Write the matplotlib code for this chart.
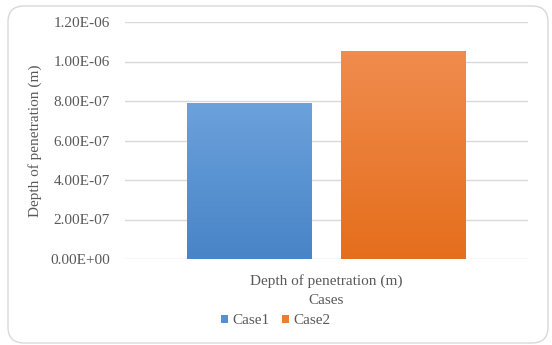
import matplotlib
matplotlib.use("Agg")
import matplotlib.pyplot as plt
import numpy as np
from matplotlib.patches import FancyBboxPatch
from matplotlib.transforms import IdentityTransform
from matplotlib.colors import LinearSegmentedColormap

category = ["Depth of penetration (m)"]
series = ["Case1", "Case2"]
values = [7.9e-07, 1.055e-06]
yticks = [0.0, 2e-07, 4e-07, 6e-07, 8e-07, 1e-06, 1.2e-06]
ytick_labels = ["0.00E+00", "2.00E-07", "4.00E-07", "6.00E-07", "8.00E-07", "1.00E-06", "1.20E-06"]

colors_top = ["#6ca2dc", "#f08c4e"]
colors_bot = ["#4884c7", "#e56e1c"]
solid = ["#5591d2", "#ed7d31"]

plt.rcParams["font.family"] = ["Liberation Serif", "DejaVu Serif"]
text_color = "#595959"
fs = 11

fig = plt.figure(figsize=(5.52, 3.45), dpi=100)
fig.patch.set_facecolor("white")

# rounded chart-area frame, in pixel units
frame = FancyBboxPatch((8, 2), 540, 337,
                       boxstyle="round,pad=0,rounding_size=16",
                       transform=IdentityTransform(), facecolor="none",
                       edgecolor="#d9d9d9", linewidth=1.0, zorder=-1)
fig.patches.append(frame)

ax = fig.add_axes([125 / 552, 1 - 259 / 345, 403 / 552, (259 - 22) / 345])
ax.set_facecolor("none")

for spine in ax.spines.values():
    spine.set_visible(False)

ax.set_yticks(yticks)
ax.set_yticklabels(ytick_labels, color=text_color, fontsize=fs)
ax.tick_params(axis="y", length=0, pad=11)
ax.yaxis.grid(True, color="#d9d9d9", linewidth=1.0)
ax.set_axisbelow(True)

ax.set_xticks([0])
ax.set_xticklabels(category, color=text_color, fontsize=fs)
ax.tick_params(axis="x", length=0, pad=11)
ax.set_xlabel("Cases", color=text_color, fontsize=fs, labelpad=4)
ax.set_ylabel("Depth of penetration (m)", color=text_color, fontsize=fs, labelpad=6)

width = 0.31
offsets = [-0.192, 0.192]
handles = []
for i, (name, v) in enumerate(zip(series, values)):
    x0 = offsets[i] - width / 2
    bar = ax.bar(offsets[i], v, width=width, color=solid[i], label=name, zorder=2)
    cmap = LinearSegmentedColormap.from_list(f"g{i}", [colors_bot[i], colors_top[i]])
    grad = np.linspace(0, 1, 256).reshape(-1, 1)
    im = ax.imshow(grad, cmap=cmap, origin="lower", aspect="auto",
                   extent=(x0, x0 + width, 0, v), zorder=3)
    im.set_clip_path(bar.patches[0])
    handles.append(bar)

ax.set_xlim(-0.5, 0.5)
ax.set_ylim(0, 1.2e-06)

leg = fig.legend(handles=[h.patches[0] for h in handles], labels=series,
                 loc="center", bbox_to_anchor=(0.5, 1 - 321 / 345), ncol=2,
                 frameon=False, fontsize=fs, handlelength=0.45, handleheight=0.45,
                 handletextpad=0.3, columnspacing=0.8)
for t in leg.get_texts():
    t.set_color(text_color)

fig.savefig("out.png", dpi=100, facecolor="white")
